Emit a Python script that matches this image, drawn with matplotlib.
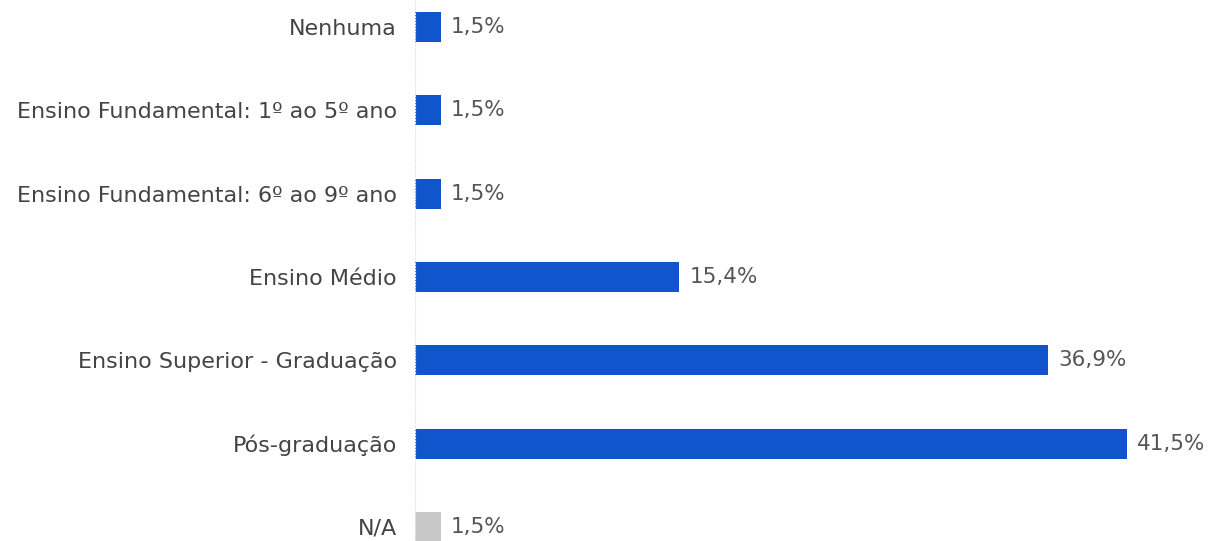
import matplotlib.pyplot as plt

# Dados do gráfico (escolaridade)
categorias = ["Nenhuma", "Ensino Fundamental: 1º ao 5º ano", "Ensino Fundamental: 6º ao 9º ano",
              "Ensino Médio", "Ensino Superior - Graduação", "Pós-graduação", "N/A"]
valores = [1.5, 1.5, 1.5, 15.4, 36.9, 41.5, 1.5]
rotulos = ["1,5%", "1,5%", "1,5%", "15,4%", "36,9%", "41,5%", "1,5%"]
cores = ["#1155cc"] * 6 + ["#c8c8c8"]

plt.rcParams['font.family'] = ['DejaVu Sans']

fig = plt.figure(figsize=(12.11, 5.41), dpi=100)
ax = fig.add_axes([415 / 1211, 0, 1 - 415 / 1211, 1])

pos = list(range(len(categorias)))
ax.barh(pos, valores, height=0.36, color=cores)

for p, v, r in zip(pos, valores, rotulos):
    ax.text(v + 0.6, p, r, va="center", ha="left", fontsize=15.5, color="#555555")

ax.set_xlim(0, 796 / 17.16)
ax.set_ylim(6.168, -0.324)
ax.set_yticks(pos)
ax.set_yticklabels(categorias, fontsize=16, color="#444444")
ax.tick_params(axis="y", length=0, pad=13)
ax.set_xticks([])
for s in ["top", "right", "bottom"]:
    ax.spines[s].set_visible(False)
ax.spines["left"].set_color("#e6e6e6")
ax.spines["left"].set_linestyle(":")

fig.savefig("out.png", dpi=100)
